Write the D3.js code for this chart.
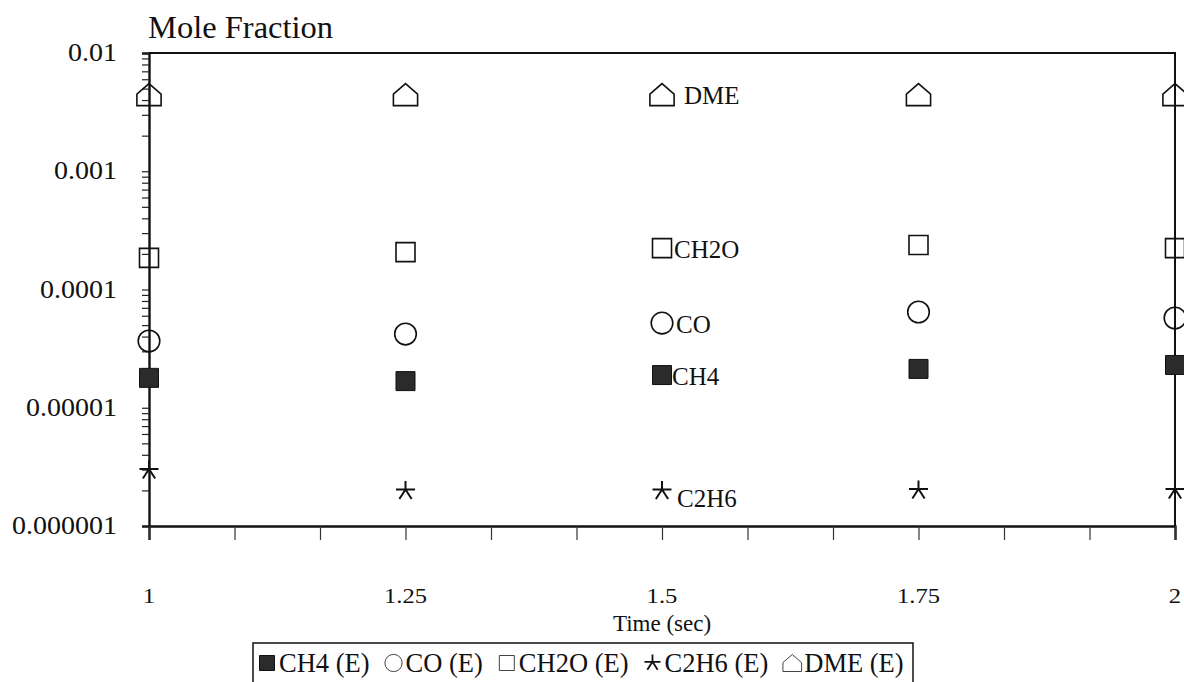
<!DOCTYPE html>
<html>
<head>
<meta charset="utf-8">
<script src="https://cdn.jsdelivr.net/npm/d3@7"></script>
<style>
  html, body { margin: 0; padding: 0; background: #fff; }
  svg { display: block; }
  text { font-family: "Liberation Serif", "DejaVu Serif", serif; fill: #111; }
</style>
</head>
<body>
<svg id="chart" width="1184" height="682"></svg>
<script>
// Sample times (s)
const times = [1, 1.25, 1.5, 1.75, 2];

// Mole fractions per species
const ch4  = [1.79e-5, 1.68e-5, 1.89e-5, 2.13e-5, 2.30e-5];
const co   = [3.67e-5, 4.20e-5, 5.20e-5, 6.45e-5, 5.74e-5];
const ch2o = [1.85e-4, 2.07e-4, 2.24e-4, 2.38e-4, 2.24e-4];
const c2h6 = [2.95e-6, 1.98e-6, 1.98e-6, 2.00e-6, 2.00e-6];
const dme  = [4.45e-3, 4.45e-3, 4.45e-3, 4.45e-3, 4.45e-3];

const speciesNames  = ["CH4", "CO", "CH2O", "C2H6", "DME"];
const legendLabels  = ["CH4 (E)", "CO (E)", "CH2O (E)", "C2H6 (E)", "DME (E)"];
const yTickValues   = [0.000001, 0.00001, 0.0001, 0.001, 0.01];
const yTickLabels   = ["0.000001", "0.00001", "0.0001", "0.001", "0.01"];
const xTickValues   = [1, 1.25, 1.5, 1.75, 2];
const xTickLabels   = ["1", "1.25", "1.5", "1.75", "2"];

const series = [
  { name: speciesNames[0], legend: legendLabels[0], values: ch4,  shape: "filledSquare" },
  { name: speciesNames[1], legend: legendLabels[1], values: co,   shape: "circle" },
  { name: speciesNames[2], legend: legendLabels[2], values: ch2o, shape: "square" },
  { name: speciesNames[3], legend: legendLabels[3], values: c2h6, shape: "star" },
  { name: speciesNames[4], legend: legendLabels[4], values: dme,  shape: "house" }
];

const svg = d3.select("#chart");
const plot = { left: 149, right: 1175, top: 53, bottom: 526 };

const x = d3.scaleLinear().domain([1, 2]).range([plot.left, plot.right]);
const y = d3.scaleLog().domain([1e-6, 1e-2]).range([plot.bottom, plot.top]);

// Text helper with optional horizontal stretch
function label(parent, tx, ty, str, size, anchor = "start", sx = 1) {
  return parent.append("text")
    .attr("transform", `translate(${tx},${ty}) scale(${sx},1)`)
    .attr("text-anchor", anchor)
    .attr("font-size", size)
    .text(str);
}

// Marker path generators, centred on (0,0); s = nominal size
function markerPath(shape, s) {
  const h = s / 2;
  switch (shape) {
    case "filledSquare":
    case "square":
      return `M${-h},${-h}H${h}V${h}H${-h}Z`;
    case "circle":
      return d3.arc()({ innerRadius: 0, outerRadius: h * 1.08, startAngle: 0, endAngle: 2 * Math.PI });
    case "house":
      return `M${-h * 1.1},${h}H${h * 1.1}V${-h * 0.05}L0,${-h}L${-h * 1.1},${-h * 0.05}Z`;
    case "star": {
      const r = h;
      const a = Math.PI / 5;
      return `M${-r},${-r * 0.15}H${r}` +
             `M0,${-r * 0.15}V${-r * 1.05}` +
             `M0,${-r * 0.15}L${-r * Math.sin(a) * 1.1},${r * 0.85}` +
             `M0,${-r * 0.15}L${r * Math.sin(a) * 1.1},${r * 0.85}`;
    }
  }
}
function markerStyle(sel, shape) {
  if (shape === "filledSquare") {
    sel.attr("fill", "#2b2b2b").attr("stroke", "#111").attr("stroke-width", 1);
  } else if (shape === "star") {
    sel.attr("fill", "none").attr("stroke", "#111").attr("stroke-width", 2);
  } else {
    sel.attr("fill", "none").attr("stroke", "#111").attr("stroke-width", 1.6);
  }
}

// Frame (top and right edges)
svg.append("path")
  .attr("d", `M${plot.left},${plot.top}H${plot.right}V${plot.bottom}`)
  .attr("fill", "none").attr("stroke", "#111").attr("stroke-width", 2);

// Y axis with log minor ticks pointing outward
const minorY = [];
for (let e = -6; e < -2; e++) {
  for (let m = 1; m <= 9; m++) minorY.push(m * Math.pow(10, e));
}
minorY.push(1e-2);
const yAxis = svg.append("g").attr("transform", `translate(${plot.left},0)`)
  .call(d3.axisLeft(y).tickValues(minorY).tickSize(7).tickFormat(""));
yAxis.select(".domain").attr("stroke", "#111").attr("stroke-width", 2.4);
yAxis.selectAll(".tick line").attr("stroke", "#222").attr("stroke-width", 1.2);

const yLabels = svg.append("g");
yTickValues.forEach((d, i) => label(yLabels, 117, y(d) + 8, yTickLabels[i], 25, "end", 1.12));

// X axis: ticks every 1/12 s, labels every 0.25 s
const xTicksAll = d3.range(0, 13).map(i => 1 + i / 12);
const xAxis = svg.append("g").attr("transform", `translate(0,${plot.bottom})`)
  .call(d3.axisBottom(x).tickValues(xTicksAll).tickSize(14).tickFormat(""));
xAxis.select(".domain").attr("stroke", "#111").attr("stroke-width", 2.4);
xAxis.selectAll(".tick line").attr("stroke", "#333").attr("stroke-width", 1.2);

const xLabels = svg.append("g");
xTickValues.forEach((d, i) => label(xLabels, x(d), 603, xTickLabels[i], 22, "middle", 1.12));

// Titles
label(svg, 148, 38, "Mole Fraction", 32.5);
label(svg, 662, 631, "Time (sec)", 23, "middle");

// Data markers
const sizes = { filledSquare: 19, square: 19, circle: 20, star: 19, house: 22 };
series.forEach(s => {
  svg.append("g").selectAll("path").data(s.values).join("path")
    .attr("transform", (d, i) => `translate(${x(times[i])},${y(d)})`)
    .attr("d", markerPath(s.shape, sizes[s.shape]))
    .call(markerStyle, s.shape);
});

// Inline species labels beside the t = 1.5 s markers
const labelIdx = 2;
const labelOffsets = { CH4: [10, 10], CO: [14, 10], CH2O: [12, 10], C2H6: [15, 16], DME: [22, 9] };
series.forEach(s => {
  const off = labelOffsets[s.name];
  label(svg, x(times[labelIdx]) + off[0], y(s.values[labelIdx]) + off[1], s.name, 25);
});

// Legend box, items laid out left to right from measured text widths
const legend = svg.append("g");
legend.append("rect").attr("x", 253).attr("y", 643).attr("width", 660).attr("height", 50)
  .attr("fill", "#fff").attr("stroke", "#111").attr("stroke-width", 1.5);
const legendSizes = { filledSquare: 15, square: 15, circle: 16, star: 16, house: 17 };
const markerW = 18, markerGap = 3, itemGap = 15, legendY = 663;
let cursor = 258;
series.forEach(s => {
  legend.append("path")
    .attr("transform", `translate(${cursor + markerW / 2},${legendY})`)
    .attr("d", markerPath(s.shape, legendSizes[s.shape]))
    .call(markerStyle, s.shape)
    .attr("stroke", s.shape === "filledSquare" || s.shape === "star" ? "#111" : "#444")
    .attr("stroke-width", s.shape === "star" ? 1.8 : 1);
  cursor += markerW + markerGap;
  const t = label(legend, cursor, legendY + 9, s.legend, 26.5);
  cursor += t.node().getComputedTextLength() + itemGap;
});
</script>
</body>
</html>
